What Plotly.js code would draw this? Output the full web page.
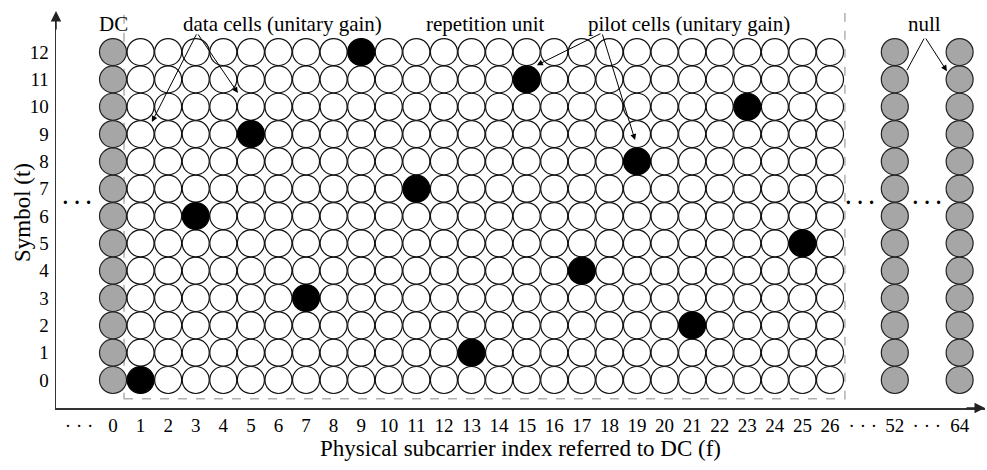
<!DOCTYPE html>
<html>
<head>
<meta charset="utf-8">
<script src="https://cdn.plot.ly/plotly-3.0.1.min.js"></script>
<style>html,body{margin:0;padding:0;background:#fff}#chart{width:987px;height:470px}</style>
</head>
<body>
<div id="chart"></div>
<script>
// ---- data ----
const symbols = [0,1,2,3,4,5,6,7,8,9,10,11,12];
const dcSubcarrier = [0];
const dataSubcarriers = [1,2,3,4,5,6,7,8,9,10,11,12,13,14,15,16,17,18,19,20,21,22,23,24,25,26];
const nullSubcarriers = [52, 64];
const pilotSubcarriers = [1,3,5,7,9,11,13,15,17,19,21,23,25];
const pilotSymbols     = [0,6,9,3,12,7,1,11,4,8,2,10,5];
const xTickLabels = ['· · ·','0','1','2','3','4','5','6','7','8','9','10','11','12','13','14','15','16','17','18','19','20','21','22','23','24','25','26','· · ·','52','· · ·','64'];

// broken axis: subcarriers beyond 26 are drawn after a gap
const breakSlots = {52: 28.35, 64: 30.7};
const gapSlots = [-1.23, 27.19, 29.51];
function slot(f){ return f <= 26 ? f : breakSlots[f]; }

const xTickVals = [gapSlots[0]].concat(dcSubcarrier.map(slot), dataSubcarriers.map(slot))
  .concat([gapSlots[1], slot(52), gapSlots[2], slot(64)]);

function column(fs, filterFn){
  const xs=[], ys=[];
  fs.forEach(f => symbols.forEach(t => { if(!filterFn || filterFn(f,t)){ xs.push(slot(f)); ys.push(t);} }));
  return {xs, ys};
}
const isPilot = (f,t) => pilotSubcarriers.some((p,i)=> p===f && pilotSymbols[i]===t);

const dc = column(dcSubcarrier);
const dataCells = column(dataSubcarriers, (f,t)=>!isPilot(f,t));
const nulls = column(nullSubcarriers);

const MS = 27;
const base = {type:'scatter', mode:'markers', hoverinfo:'skip', showlegend:false};
const traces = [
  Object.assign({}, base, {name:'DC', x: dc.xs, y: dc.ys, marker:{size:MS, color:'#a6a6a6', line:{color:'#222', width:1.2}}}),
  Object.assign({}, base, {name:'data cells', x: dataCells.xs, y: dataCells.ys, marker:{size:MS, color:'#ffffff', line:{color:'#111', width:1.2}}}),
  Object.assign({}, base, {name:'pilot cells', x: pilotSubcarriers.map(slot), y: pilotSymbols, marker:{size:MS, color:'#000000', line:{color:'#000', width:1.2}}}),
  Object.assign({}, base, {name:'null', x: nulls.xs, y: nulls.ys, marker:{size:MS, color:'#a6a6a6', line:{color:'#222', width:1.2}}})
];

const FONT = '"Liberation Serif", "Times New Roman", serif';
function label(text, x, y){ return {text, x, y, xref:'x', yref:'y', showarrow:false, font:{family:FONT, size:21, color:'#000'}}; }
function arrow(x, y, ax, ay, head){
  return {text:'', x, y, ax, ay, xref:'x', yref:'y', axref:'x', ayref:'y', showarrow:true,
          arrowhead: head===false ? 0 : 2, arrowsize:1.2, arrowwidth:1, arrowcolor:'#000'};
}
const dots = (x,y)=>({text:'<b>· · ·</b>', x, y, xref:'x', yref:'y', showarrow:false, font:{family:FONT, size:20, color:'#000'}});

const PLOT = {l:56, t:13, w:987-56-2, h:470-13-62};
const annotations = [
  label('DC', 0, 13.02),
  label('data cells (unitary gain)', 6.13, 13.02),
  label('repetition unit', 13.5, 13.02),
  label('pilot cells (unitary gain)', 20.9, 13.02),
  label('null', 29.44, 13.02),
  arrow(1.41, 9.44, 3.05, 12.7),
  arrow(4.53, 10.5, 3.05, 12.7),
  arrow(15.37, 11.52, 17.73, 12.7),
  arrow(18.93, 8.78, 17.73, 12.7),
  arrow(28.79, 11.34, 29.44, 12.55, false),
  arrow(30.24, 11.3, 29.44, 12.55),
  dots(-1.3, 6.53),
  dots(27.1, 6.53),
  dots(29.5, 6.53),
  // y-axis title placed beside the tick labels
  {text:'Symbol (t)', textangle:-90, x:(22-PLOT.l)/PLOT.w, y:1-(213-PLOT.t)/PLOT.h, xref:'paper', yref:'paper',
   xanchor:'center', yanchor:'middle', showarrow:false, font:{family:FONT, size:23, color:'#000'}},
  // axis arrowheads
  {text:'', x:0, y:1.005, ax:0, ay:20, xref:'paper', yref:'paper', showarrow:true, arrowhead:2, arrowsize:1.4, arrowwidth:1.5, arrowcolor:'#222'},
  {text:'', x:1.0, y:0, ax:-20, ay:0, xref:'paper', yref:'paper', showarrow:true, arrowhead:2, arrowsize:1.4, arrowwidth:1.5, arrowcolor:'#222'}
];

const layout = {
  width:987, height:470,
  margin:{l:56, r:2, t:13, b:62},
  paper_bgcolor:'#fff', plot_bgcolor:'#fff',
  font:{family:FONT, size:19, color:'#000'},
  xaxis:{range:[-2.067, 31.62], tickvals:xTickVals, ticktext:xTickLabels, showgrid:false, zeroline:false,
         showline:true, linecolor:'#333', linewidth:1.5, ticks:'',
         tickfont:{family:FONT, size:19}, tickangle:0,
         title:{text:'Physical subcarrier index referred to DC (f)', font:{family:FONT, size:23}, standoff:0}},
  yaxis:{range:[-1.025, 13.43], tickvals:symbols, showgrid:false, zeroline:false,
         showline:true, linecolor:'#333', linewidth:1.5, ticks:'outside', ticklen:2, tickcolor:'rgba(0,0,0,0)',
         tickfont:{family:FONT, size:19}},
  shapes:[{type:'rect', xref:'x', yref:'y', x0:0.4, x1:26.54, y0:-0.69, y1:13.55, layer:'below',
           line:{color:'#b0b0b0', width:1.5, dash:'dash'}}],
  annotations
};
Plotly.newPlot('chart', traces, layout, {displayModeBar:false, staticPlot:true});
</script>
</body>
</html>
